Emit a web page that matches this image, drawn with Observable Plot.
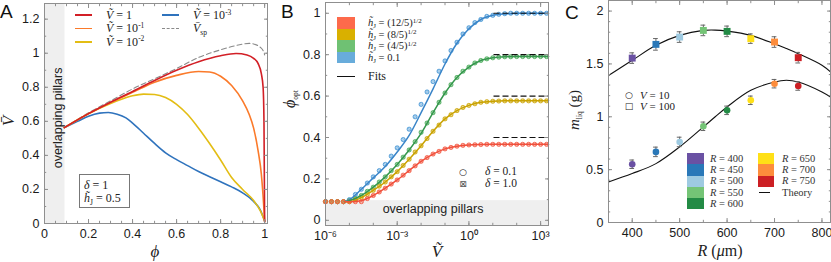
<!DOCTYPE html>
<html><head><meta charset="utf-8">
<script src="https://cdn.jsdelivr.net/npm/d3@7"></script>
<script src="https://cdn.jsdelivr.net/npm/@observablehq/plot@0.6"></script>
<style>
html,body{margin:0;padding:0;background:#fff;}
#wrap{position:relative;width:831px;height:262px;overflow:hidden;}
.pnl{position:absolute;top:0;}
.t{position:absolute;white-space:nowrap;line-height:1;font-family:"Liberation Serif","DejaVu Serif",serif;font-size:12px;color:#222;transform:translate(0,-50%);}
.t i{font-style:italic;}
.t sup{font-size:7.5px;vertical-align:0;position:relative;top:-4.5px;}
.t sub{font-size:7.5px;vertical-align:0;position:relative;top:2.5px;}
.tight sup{font-size:7px;top:-3.5px;}
.tight sub{font-size:7px;top:2px;}
.ctr{transform:translate(-50%,-50%);}
.rot{transform:translate(-50%,-50%) rotate(-90deg);}
.letter{position:absolute;font-family:"Liberation Sans",Arial,sans-serif;font-size:19px;line-height:1;color:#111;}
.sw{position:absolute;}
</style></head><body><div id="wrap"></div>
<script>
// ================= Panel A data =================
const overlapPhi = 0.093;
const phiRed = [0.09,0.2,0.3,0.4,0.5,0.6,0.7,0.8,0.87,0.92,0.95,0.97,0.985,0.993,0.997,1.0];
const valRed = [0.563,0.645,0.712,0.775,0.84,0.9,0.95,0.985,0.998,0.99,0.97,0.94,0.88,0.8,0.6,0.01];
const phiOrange = [0.09,0.2,0.3,0.4,0.5,0.6,0.7,0.75,0.8,0.85,0.9,0.93,0.95,0.97,0.985,0.995,1.0];
const valOrange = [0.563,0.645,0.71,0.77,0.83,0.87,0.893,0.89,0.865,0.81,0.72,0.64,0.56,0.43,0.29,0.12,0.01];
const phiYellow = [0.09,0.2,0.3,0.35,0.4,0.45,0.5,0.55,0.6,0.65,0.7,0.75,0.8,0.85,0.9,0.95,0.98,1.0];
const valYellow = [0.563,0.645,0.705,0.73,0.75,0.76,0.758,0.74,0.70,0.64,0.56,0.47,0.373,0.27,0.2,0.135,0.075,0.015];
const phiBlue = [0.09,0.15,0.2,0.25,0.29,0.33,0.37,0.4,0.45,0.5,0.55,0.6,0.65,0.7,0.75,0.8,0.85,0.9,0.95,0.98,1.0];
const valBlue = [0.563,0.6,0.63,0.648,0.652,0.642,0.62,0.59,0.53,0.47,0.415,0.375,0.34,0.305,0.275,0.245,0.215,0.18,0.13,0.08,0.015];
const phiSp = [0.09,0.2,0.3,0.4,0.5,0.6,0.7,0.8,0.9,0.93,0.96,0.98,0.995,1.0];
const valSp = [0.563,0.65,0.72,0.79,0.85,0.91,0.975,1.02,1.053,1.058,1.05,1.035,1.01,0.99];
const xTicksA = [0,0.2,0.4,0.6,0.8,1];
const yTicksA = [0,0.2,0.4,0.6,0.8,1,1.2];
const bandLabelA = {phi: 0.063, v: 0.62};

// ================= Panel B data =================
const overlapPhiOpt = 0.095;
const fitU = [-5.2,-5,-4.5,-4,-3.5,-3,-2.5,-2,-1.5,-1,-0.5,0,0.5,1,1.5,2,2.5,3,3.33];
const fitBlue   = [0.09,0.10,0.15,0.205,0.26,0.33,0.41,0.52,0.635,0.755,0.855,0.925,0.97,0.99,0.997,1,1,1,1];
const fitGreen  = [0.09,0.095,0.12,0.16,0.21,0.27,0.34,0.42,0.52,0.615,0.69,0.74,0.772,0.785,0.79,0.791,0.791,0.791,0.791];
const fitYellow = [0.09,0.09,0.11,0.145,0.185,0.235,0.295,0.36,0.43,0.49,0.53,0.555,0.57,0.575,0.577,0.577,0.577,0.577,0.577];
const fitRed    = [0.09,0.09,0.095,0.12,0.155,0.195,0.24,0.285,0.32,0.345,0.358,0.364,0.366,0.367,0.367,0.367,0.367,0.367,0.367];
const dotU = [-6,-5.75,-5.5,-5.25,-5,-4.75,-4.5,-4.25,-4,-3.75,-3.5,-3.25,-3,-2.75,-2.5,-2.25,-2,-1.75,-1.5,-1.25,-1,-0.75,-0.5,-0.25,0,0.25,0.5,0.75,1,1.25,1.5,1.75,2,2.25,2.5,2.75,3,3.25];
const dotBlue   = [0.09,0.09,0.09,0.09,0.10,0.125,0.15,0.18,0.21,0.24,0.27,0.31,0.35,0.39,0.44,0.50,0.56,0.62,0.67,0.72,0.77,0.82,0.86,0.90,0.93,0.955,0.97,0.985,0.99,0.995,0.998,1,1,1,1,1,1,1];
const dotGreen  = [0.09,0.09,0.09,0.09,0.095,0.105,0.12,0.14,0.16,0.185,0.21,0.24,0.27,0.305,0.34,0.38,0.425,0.47,0.52,0.57,0.615,0.655,0.69,0.72,0.74,0.76,0.772,0.78,0.785,0.788,0.79,0.79,0.791,0.791,0.791,0.791,0.791,0.791];
const dotYellow = [0.09,0.09,0.09,0.09,0.09,0.10,0.11,0.125,0.145,0.165,0.185,0.21,0.235,0.265,0.295,0.33,0.36,0.395,0.43,0.46,0.49,0.51,0.53,0.545,0.555,0.563,0.57,0.573,0.575,0.576,0.577,0.577,0.577,0.577,0.577,0.577,0.577,0.577];
const dotRed    = [0.09,0.09,0.09,0.09,0.09,0.09,0.09,0.105,0.12,0.137,0.155,0.175,0.195,0.218,0.24,0.263,0.285,0.303,0.32,0.333,0.345,0.352,0.358,0.362,0.364,0.365,0.366,0.367,0.367,0.367,0.367,0.367,0.367,0.367,0.367,0.367,0.367,0.367];
const fitLimits = [1.0, 0.8, 0.6, 0.4];
const hJLabels = ["(12/5)", "(8/5)", "(4/5)", "0.1"];
const xTicksB = [1e-6, 1e-3, 1, 1e3];
const xTickLabelsB = ["10⁻⁶", "10⁻³", "10⁰", "10³"];
const yTicksB = [0,0.2,0.4,0.6,0.8,1];

// ================= Panel C data =================
const radii = [400,450,500,550,600,650,700,750];
const mV100 = [1.555,1.685,1.754,1.817,1.808,1.739,1.707,1.559];
const eV100 = [0.05,0.055,0.05,0.05,0.05,0.045,0.05,0.05];
const mV10  = [0.551,0.668,0.762,0.91,1.061,1.156,1.313,1.291];
const eV10  = [0.04,0.045,0.045,0.04,0.04,0.04,0.04,0.04];
const theoryR  = [350,400,450,500,550,575,600,650,700,725,750,800,818];
const theoryHi = [1.39,1.534,1.676,1.77,1.817,1.82,1.81,1.77,1.69,1.645,1.597,1.487,1.424];
const theoryLo = [0.384,0.463,0.557,0.715,0.904,1.0,1.093,1.25,1.329,1.345,1.329,1.235,1.187];
const xTicksC = [400,500,600,700,800];
const yTicksC = [0,0.5,1,1.5,2];

// ================= styles =================
const colA = {red:"#d21f26", orange:"#fb7a2a", yellow:"#e3bd14", blue:"#2f73bd", sp:"#8a8a8a"};
const colB = {
  red:   {sw:"#fd6a4b", line:"#f0503c", dot:"#f4604a"},
  yellow:{sw:"#d9b000", line:"#c9a200", dot:"#cfa910"},
  green: {sw:"#6fc173", line:"#35974d", dot:"#4fae5e"},
  blue:  {sw:"#68acdb", line:"#3a85c8", dot:"#4d9ad6"}
};
const colC = ["#6a51a3","#2a78b8","#9ecae1","#74c476","#238b45","#ffe017","#fd8d3c","#cc1f24"];
const frameCol = "#8f8f8f";
const axisFont = {fontFamily:"'Liberation Sans', Arial, sans-serif", fontSize:"12.5px", color:"#1a1a1a", background:"transparent"};
const fmt = d => String(+(+d).toFixed(2));

function ticksMarks(xMinor, yMinor, xMaj, yMaj) {
  const m = [];
  for (const [vals, len] of [[xMinor, 2.2], [xMaj, 4]]) {
    m.push(Plot.axisX({ticks: vals, tickSize: len, dy: -len, text: null, label: null, stroke: frameCol}));
    m.push(Plot.axisX({anchor:"top", ticks: vals, tickSize: len, dy: len, text: null, label: null, stroke: frameCol}));
  }
  for (const [vals, len] of [[yMinor, 2.2], [yMaj, 4]]) {
    m.push(Plot.axisY({ticks: vals, tickSize: len, dx: len, text: null, label: null, stroke: frameCol}));
    m.push(Plot.axisY({anchor:"right", ticks: vals, tickSize: len, dx: -len, text: null, label: null, stroke: frameCol}));
  }
  return m;
}

const wrap = document.getElementById("wrap");
function place(svg, left) { svg.classList.add("pnl"); svg.style.left = left + "px"; wrap.appendChild(svg); }
function T(html, x, y, cls = "", extra = "") {
  const d = document.createElement("div");
  d.className = "t " + cls; d.innerHTML = html;
  d.style.left = x + "px"; d.style.top = y + "px";
  if (extra) d.style.cssText += extra;
  wrap.appendChild(d); return d;
}
function S(x, y, w, h, css) {
  const d = document.createElement("div");
  d.className = "sw"; d.style.cssText = `left:${x}px;top:${y}px;width:${w}px;height:${h}px;` + css;
  wrap.appendChild(d); return d;
}
function L(html, x, y) { const d = document.createElement("div"); d.className = "letter"; d.textContent = html; d.style.left = x+"px"; d.style.top = y+"px"; wrap.appendChild(d); }
const pts = (xs, ys) => xs.map((x, i) => ({x, y: ys[i]}));

// ================= Panel A =================
const yDomA = [0, 1.292];
const plotA = Plot.plot({
  width: 280, height: 262, marginLeft: 44, marginRight: 13, marginTop: 3, marginBottom: 39,
  style: axisFont,
  x: {domain: [0, 1.013]},
  y: {domain: yDomA},
  marks: [
    Plot.rect([overlapPhi], {x1: 0, x2: d => d, y1: yDomA[0], y2: yDomA[1], fill: "#efefef"}),
    Plot.text([bandLabelA], {x: "phi", y: "v", text: () => "overlapping pillars", textAnchor: "middle", rotate: -90, fontSize: 12.5, fill: "#222", fontFamily: "'Liberation Sans', Arial, sans-serif"}),
    Plot.line(pts(phiSp, valSp), {x: "x", y: "y", stroke: colA.sp, strokeWidth: 1.1, strokeDasharray: "5,3", curve: "monotone-x"}),
    Plot.line(pts(phiBlue, valBlue), {x: "x", y: "y", stroke: colA.blue, strokeWidth: 1.6, curve: "monotone-x"}),
    Plot.line(pts(phiYellow, valYellow), {x: "x", y: "y", stroke: colA.yellow, strokeWidth: 1.6, curve: "monotone-x"}),
    Plot.line(pts(phiOrange, valOrange), {x: "x", y: "y", stroke: colA.orange, strokeWidth: 1.6, curve: "monotone-x"}),
    Plot.line(pts(phiRed, valRed), {x: "x", y: "y", stroke: colA.red, strokeWidth: 1.6, curve: "monotone-x"}),
    Plot.frame({stroke: frameCol}),
    ...ticksMarks(d3.range(0, 1.0001, 0.05), d3.range(0, 1.2501, 0.1), xTicksA, yTicksA),
    Plot.axisX({ticks: xTicksA, tickSize: 0, tickPadding: 6, tickFormat: fmt, label: null}),
    Plot.axisY({ticks: yTicksA, tickSize: 0, tickPadding: 5, tickFormat: fmt, label: null})
  ]
});
place(plotA, 0);

// ================= Panel B =================
const xDomB = [1e-6, Math.pow(10, 3.33)];
const yDomB = [-0.025, 1.052];
const seriesB = [
  {key: "blue", fit: fitBlue, dots: dotBlue},
  {key: "green", fit: fitGreen, dots: dotGreen},
  {key: "yellow", fit: fitYellow, dots: dotYellow},
  {key: "red", fit: fitRed, dots: dotRed}
];
const marksB = [
  Plot.rect([overlapPhiOpt], {x1: xDomB[0], x2: xDomB[1], y1: yDomB[0], y2: d => d, fill: "#efefef"}),
  Plot.text(["overlapping pillars"], {frameAnchor: "bottom", dx: -4, dy: -13, fontSize: 12.5, fill: "#222", fontFamily: "'Liberation Sans', Arial, sans-serif"})
];
for (const s of seriesB) {
  const d = dotU.map((u, i) => ({x: Math.pow(10, u), y: s.dots[i]}));
  marksB.push(Plot.dot(d, {x: "x", y: "y", r: 2.1, stroke: colB[s.key].dot, strokeWidth: 0.8, fill: "none"}));
  marksB.push(Plot.dot(d, {x: "x", y: "y", r: 1.6, symbol: "square", stroke: colB[s.key].dot, strokeWidth: 0.6, fill: "none"}));
  marksB.push(Plot.dot(d, {x: "x", y: "y", r: 1.1, symbol: "times", stroke: colB[s.key].dot, strokeWidth: 0.5}));
}
for (const s of seriesB) {
  marksB.push(Plot.line(fitU.map((u, i) => ({x: Math.pow(10, u), y: s.fit[i]})), {x: "x", y: "y", stroke: colB[s.key].line, strokeWidth: 1.5, curve: "monotone-x"}));
}
marksB.push(Plot.ruleY(fitLimits, {x1: Math.pow(10, 1.05), x2: xDomB[1], stroke: "#111", strokeWidth: 1.2, strokeDasharray: "6,3"}));
const labelB = d => xTickLabelsB[xTicksB.findIndex(v => Math.abs(Math.log10(v) - Math.log10(d)) < 1e-6)];
const plotB = Plot.plot({
  width: 280, height: 262, marginLeft: 45, marginRight: 12, marginTop: 2, marginBottom: 37,
  style: axisFont,
  x: {type: "log", domain: xDomB},
  y: {domain: yDomB},
  marks: [
    ...marksB,
    Plot.frame({stroke: frameCol}),
    ...ticksMarks(d3.range(-6, 4).map(u => Math.pow(10, u)), d3.range(0, 1.0001, 0.1), xTicksB, yTicksB),
    Plot.axisX({ticks: xTicksB, tickSize: 0, tickPadding: 6, tickFormat: labelB, label: null}),
    Plot.axisY({ticks: yTicksB, tickSize: 0, tickPadding: 5, tickFormat: fmt, label: null})
  ]
});
place(plotB, 280);

// ================= Panel C =================
const dataC = radii.map((R, i) => ({R, c: colC[i], sq: mV100[i], eSq: eV100[i], ci: mV10[i], eCi: eV10[i]}));
const capHalf = 5;
const plotC = Plot.plot({
  width: 271, height: 262, marginLeft: 48, marginRight: 1, marginTop: 0, marginBottom: 40,
  style: axisFont,
  x: {domain: [350, 818]},
  y: {domain: [0, 2.1]},
  marks: [
    Plot.line(pts(theoryR, theoryHi), {x: "x", y: "y", stroke: "#111", strokeWidth: 1.1, curve: "catmull-rom"}),
    Plot.line(pts(theoryR, theoryLo), {x: "x", y: "y", stroke: "#111", strokeWidth: 1.1, curve: "catmull-rom"}),
    ...[["sq", "eSq"], ["ci", "eCi"]].flatMap(([k, e]) => [
      Plot.ruleX(dataC, {x: "R", y1: d => d[k] - d[e], y2: d => d[k] + d[e], stroke: "#666", strokeWidth: 1}),
      Plot.ruleY(dataC, {y: d => d[k] - d[e], x1: d => d.R - capHalf, x2: d => d.R + capHalf, stroke: "#666", strokeWidth: 1}),
      Plot.ruleY(dataC, {y: d => d[k] + d[e], x1: d => d.R - capHalf, x2: d => d.R + capHalf, stroke: "#666", strokeWidth: 1})
    ]),
    Plot.dot(dataC, {x: "R", y: "sq", symbol: "square", r: 3.9, fill: "c", stroke: "none"}),
    Plot.dot(dataC, {x: "R", y: "ci", r: 3.3, fill: "c", stroke: "none"}),
    Plot.frame({stroke: frameCol}),
    ...ticksMarks(d3.range(350, 818, 50), d3.range(0, 2.1, 0.1), xTicksC, yTicksC),
    Plot.axisX({ticks: xTicksC, tickSize: 0, tickPadding: 6, tickFormat: fmt, label: null}),
    Plot.axisY({ticks: yTicksC, tickSize: 0, tickPadding: 5, tickFormat: fmt, label: null})
  ]
});
place(plotC, 560);

// ================= overlays: letters, axis titles, legends =================
L("A", 0, 2); L("B", 281, 2); L("C", 565, 3);

const big = "font-size:17px;";
T("<i>ϕ</i>", 155, 251, "ctr", big);
T("<i>V&#772;</i>", 8, 121, "rot", big);
T("<i>V&#771;</i>", 437, 251, "ctr", big);
T("<i>ϕ</i><sub>opt</sub>", 290, 99, "rot", "font-size:16px;");
T("<i>R</i> (<i>μ</i>m)", 720, 251, "ctr", "font-size:16px;");
T("<i>m</i><sub>liq</sub> (g)", 574, 110, "rot", "font-size:15px;");

// legend A
const legA1 = [[colA.red, "1"], [colA.orange, "10<sup>-1</sup>"], [colA.yellow, "10<sup>-2</sup>"]];
legA1.forEach(([c, lab], i) => {
  const y = 15 + i * 13.4;
  S(75, y - 0.8, 17, 1.7, `background:${c};`);
  T(`<i>V&#771;</i> = ${lab}`, 106, y);
});
S(162, 15 - 0.8, 17, 1.7, `background:${colA.blue};`);
T(`<i>V&#771;</i> = 10<sup>-3</sup>`, 193, 15);
S(162, 28.4, 17, 0, `border-top:1.2px dashed ${colA.sp};`);
T(`<i>V&#772;</i><sub>sp</sub>`, 193, 28.4);
S(79, 174, 49, 32, "border:1px solid #777;background:#fff;");
T("<i>δ</i> = 1", 84, 185);
T("<i>h&#771;</i><sub>J</sub> = 0.5", 84, 198);

// legend B
const swB = ["red", "yellow", "green", "blue"];
swB.forEach((k, i) => {
  const top = 17 + i * 11.6;
  S(337, top, 18, 11.6, `background:${colB[k].sw};`);
  const lab = i < 3 ? `${hJLabels[i]}<sup>1/2</sup>` : hJLabels[i];
  T(`<i>h&#771;</i><sub>J</sub> = ${lab}`, 368, top + 6.2, "tight", "font-size:10.5px;");
});
S(337, 75.5, 18, 1.3, "background:#111;");
T("Fits", 368, 76);
T("○", 463, 171.5, "ctr", "font-family:'DejaVu Sans',sans-serif;font-size:9px;");
T("<i>δ</i> = 0.1", 485, 171.5, "", "font-size:11.5px;");
T("⊠", 463, 183.5, "ctr", "font-family:'DejaVu Sans',sans-serif;font-size:9px;color:#555;");
T("<i>δ</i> = 1.0", 485, 183.5, "", "font-size:11.5px;");

// legend C
T("○", 629, 94.5, "ctr", "font-family:'DejaVu Sans',sans-serif;font-size:9px;");
T("<i>V</i> = 10", 640, 94.5, "", "font-size:11px;");
T("□", 629, 106, "ctr", "font-family:'DejaVu Sans',sans-serif;font-size:9px;");
T("<i>V</i> = 100", 640, 106, "", "font-size:11px;");
radii.forEach((R, i) => {
  const col = i < 5 ? 0 : 1, row = i < 5 ? i : i - 5;
  const top = 153 + row * 11.3;
  S(col ? 758 : 687, top, col ? 15.5 : 16.5, 11.3, `background:${colC[i]};`);
  T(`<i>R</i> = ${R}`, col ? 782 : 710, top + 5.65, "", "font-size:10.5px;color:#333;");
});
S(759, 192, 11, 1.2, "background:#111;");
T("Theory", 782, 192.5, "", "font-size:10.5px;color:#333;");
</script></body></html>
